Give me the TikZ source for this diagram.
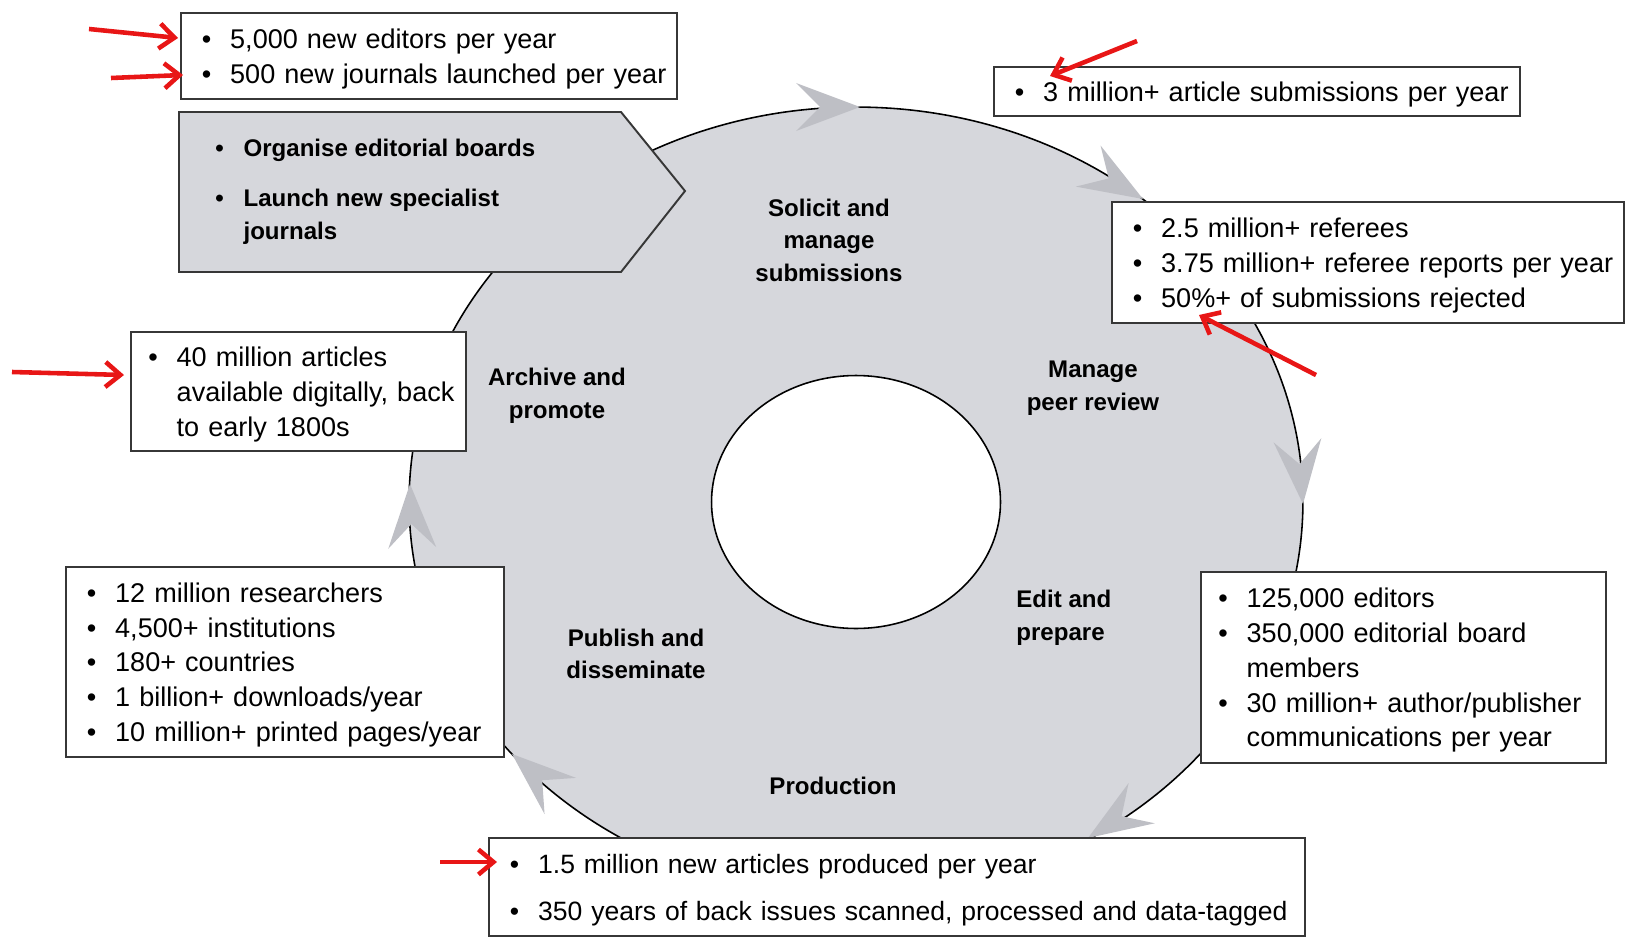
\documentclass[tikz,border=0pt]{standalone}
\usepackage{fontspec}
\setmainfont{Liberation Sans}
\usetikzlibrary{shapes.geometric,arrows.meta}

\definecolor{ringgray}{RGB}{214,215,220}
\definecolor{headgray}{RGB}{190,191,197}
\definecolor{boxline}{RGB}{55,55,55}
\definecolor{alertred}{RGB}{232,22,22}

\newcommand{\factfont}{\fontsize{15.4}{19.8}\selectfont}
\newcommand{\stagefont}{\fontsize{13.7}{18.5}\selectfont\bfseries}
\newcommand{\bul}[1]{\mbox{\makebox[0.565cm][l]{\textbullet}#1}}
\newcommand{\cont}[1]{\mbox{\hspace*{0.565cm}#1}}
\newcommand{\ringtip}[3]{\fill[headgray,shift={(#1,#2)},rotate=#3]
    (0,0) -- (-64,24) -- (-40,0) -- (-64,-24) -- cycle;}

\begin{document}
\begin{tikzpicture}[
                    x=0.02cm,
                    y=-0.02cm,
                    fact/.style={draw=boxline, fill=white, line width=1.1pt, anchor=north west,
                                 align=left, inner xsep=0.42cm, inner ysep=0pt, font=\factfont,
                                 execute at begin node={\rule{0pt}{14.5pt}}},
                    stage/.style={font=\stagefont, align=center, inner sep=0pt},
                    pointer/.style={draw=alertred, line width=2.6pt,
                                    -{Straight Barb[length=3mm,width=5mm]}}
                ]
                \useasboundingbox (0,0) rectangle (1625,936);

                % the cycle
                \node (ring) [ellipse, draw=black, fill=ringgray, line width=0.9pt, inner sep=0pt,
                              minimum width=17.88cm, minimum height=15.8cm] at (856,502) {};
                \node (hub)  [ellipse, draw=black, fill=white, line width=0.9pt, inner sep=0pt,
                              minimum width=5.78cm, minimum height=5.06cm] at (856,502) {};

                \ringtip{860}{107}{0}
                \ringtip{1143}{199}{-31}
                \ringtip{1303}{504}{-85}
                \ringtip{1088}{838}{213}
                \ringtip{512}{754}{139}
                \ringtip{410}{484}{92}

                \node (solicit)    [stage]                        at (829,240)  {Solicit and\\manage\\submissions};
                \node (peer)       [stage]                        at (1093,388) {Manage\\peer review};
                \node (archive)    [stage]                        at (557,396)  {Archive and\\promote};
                \node (edit)       [stage, anchor=west, align=left] at (1016,618) {Edit and\\prepare};
                \node (publish)    [stage]                        at (636,654)  {Publish and\\disseminate};
                \node (production) [stage]                        at (833,786)  {Production};

                % launch arrow
                \filldraw[fill=ringgray, draw=boxline, line width=1.1pt]
                    (179,112) -- (621,112) -- (685,191) -- (621,272) -- (179,272) -- cycle;
                \node (launch) [stage, anchor=west, align=left] at (215,192)
                    {\bul{Organise editorial boards}\\[0.35cm]\bul{Launch new specialist}\\\cont{journals}};

                % facts
                \node (editors)  [fact, text width=9.08cm, minimum height=1.72cm] at (180,12)
                    {\bul{5,000 new editors per year}\\\bul{500 new journals launched per year}};
                \node (submits)  [fact, text width=9.68cm, minimum height=0.98cm] at (993,66)
                    {\bul{3 million+ article submissions per year}};
                \node (referees) [fact, text width=9.40cm, minimum height=2.42cm] at (1111,201)
                    {\bul{2.5 million+ referees}\\\bul{3.75 million+ referee reports per year}\\\bul{50\%+ of submissions rejected}};
                \node (archived) [fact, inner xsep=0.35cm, text width=6.0cm, minimum height=2.38cm] at (130,331)
                    {\bul{40 million articles}\\\cont{available digitally, back}\\\cont{to early 1800s}};
                \node (readers)  [fact, text width=7.92cm, minimum height=3.8cm] at (65,566)
                    {\bul{12 million researchers}\\\bul{4,500+ institutions}\\\bul{180+ countries}\\\bul{1 billion+ downloads/year}\\\bul{10 million+ printed pages/year}};
                \node (editing)  [fact, inner xsep=0.35cm, text width=7.4cm, minimum height=3.82cm] at (1200,571)
                    {\bul{125,000 editors}\\\bul{350,000 editorial board}\\\cont{members}\\\bul{30 million+ author/publisher}\\\cont{communications per year}};
                \node (produced) [fact, font={\fontsize{15.1}{19.8}\selectfont}, text width=15.48cm,
                                  minimum height=1.96cm] at (488,837)
                    {\bul{1.5 million new articles produced per year}\\[0.245cm]\bul{350 years of back issues scanned, processed and data-tagged}};

                % red markers
                \coordinate (edT)  at (89,29);    \coordinate (edH)  at (178,38);
                \coordinate (jnT)  at (111,78);   \coordinate (jnH)  at (183,75);
                \coordinate (subT) at (1137,41);  \coordinate (subH) at (1050,76);
                \coordinate (rejT) at (1316,375); \coordinate (rejH) at (1199,315);
                \coordinate (arcT) at (12,372);   \coordinate (arcH) at (124,375);
                \coordinate (proT) at (440,862);  \coordinate (proH) at (497,862);

                \path
                (edT)  edge[pointer] (edH)
                (jnT)  edge[pointer] (jnH)
                (subT) edge[pointer] (subH)
                (rejT) edge[pointer] (rejH)
                (arcT) edge[pointer] (arcH)
                (proT) edge[pointer] (proH)
                ;
            \end{tikzpicture}
\end{document}
